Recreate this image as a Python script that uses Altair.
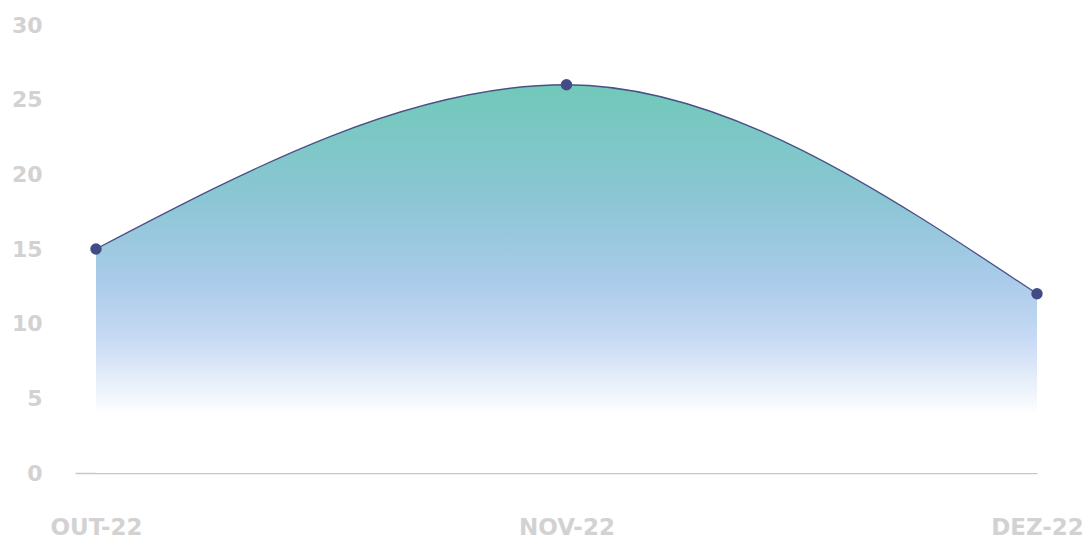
import json
import altair as alt
import pandas as pd

months = ["OUT-22", "NOV-22", "DEZ-22"]
values = [15, 26, 12]

df = pd.DataFrame({"idx": list(range(len(months))), "month": months, "value": values})

label_expr = json.dumps(months) + "[datum.value]"

x_enc = alt.X(
    "idx:Q",
    scale=alt.Scale(domain=[-0.0446, 2], nice=False, zero=False),
    axis=alt.Axis(
        values=[0, 1, 2],
        labelExpr=label_expr,
        title=None,
        grid=False,
        ticks=False,
        domain=True,
        domainColor="#c8c8c8",
        domainWidth=1.5,
        labelFont="DejaVu Sans",
        labelFontWeight="bold",
        labelFontSize=23,
        labelColor="#d2d2d2",
        labelPadding=43,
        labelBaseline="top",
        labelAlign="center",
        labelFlush=False,
    ),
)
y_enc = alt.Y(
    "value:Q",
    scale=alt.Scale(domain=[0, 30], nice=False),
    axis=alt.Axis(
        values=[0, 5, 10, 15, 20, 25, 30],
        title=None,
        grid=False,
        ticks=False,
        domain=False,
        labelFont="DejaVu Sans",
        labelFontWeight="bold",
        labelFontSize=22,
        labelColor="#d2d2d2",
        labelPadding=33,
    ),
)

gradient = alt.Gradient(
    gradient="linear",
    x1=0, x2=0, y1=0, y2=1,
    stops=[
        alt.GradientStop(offset=0.0, color="#70c9b9"),
        alt.GradientStop(offset=0.3, color="#8cc6d5"),
        alt.GradientStop(offset=0.5, color="#a9cbe9"),
        alt.GradientStop(offset=0.65, color="#c6d9f4"),
        alt.GradientStop(offset=0.85, color="#ffffff"),
        alt.GradientStop(offset=1.0, color="#ffffff"),
    ],
)

base = alt.Chart(df)
area = base.mark_area(interpolate="monotone", color=gradient).encode(x=x_enc, y=y_enc)
line = base.mark_line(interpolate="monotone", color="#4a5086", strokeWidth=1.3).encode(x="idx:Q", y="value:Q")
points = base.mark_point(filled=True, size=130, color="#434b84", opacity=1).encode(x="idx:Q", y="value:Q")

chart = (
    alt.layer(area, line, points)
    .properties(
        width=962,
        height=448,
        autosize=alt.AutoSizeParams(type="none"),
        padding={"left": 75, "top": 25, "right": 53, "bottom": 67},
        background="#ffffff",
    )
    .configure_view(strokeWidth=0)
)

chart.save("out.html", embed_options={"renderer": "svg", "actions": False})
